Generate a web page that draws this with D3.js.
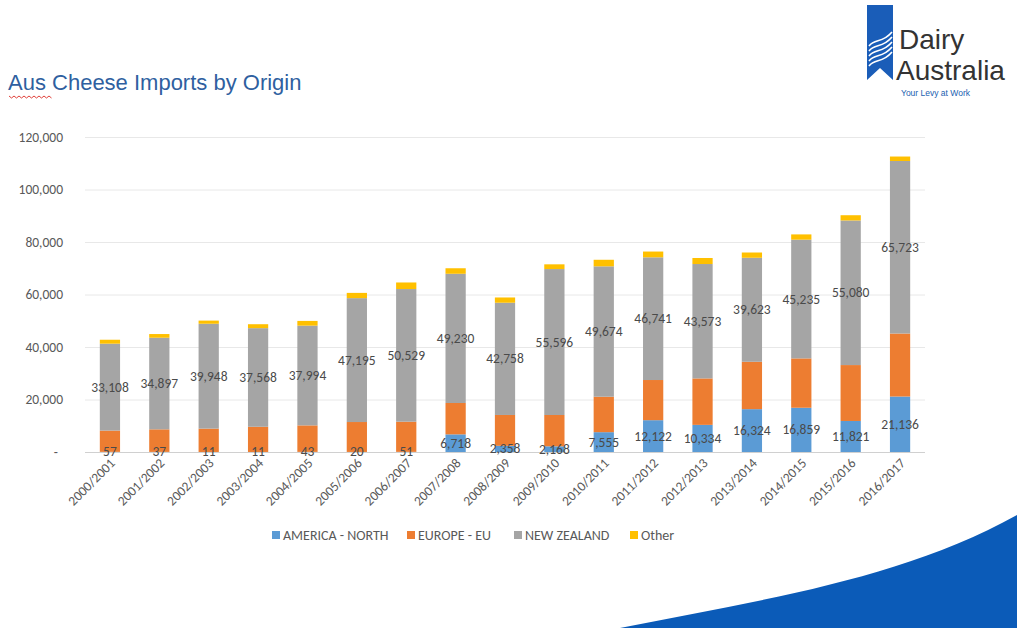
<!DOCTYPE html>
<html>
<head>
<meta charset="utf-8">
<script src="https://cdn.jsdelivr.net/npm/d3@7"></script>
<style>
  body { margin: 0; background: #fff; }
  svg { display: block; }
  .cal { font-family: Calibri, Carlito, "Open Sans", "DejaVu Sans", sans-serif; }
  .ari { font-family: Arial, "Liberation Sans", sans-serif; }
</style>
</head>
<body>
<svg width="1017" height="628"></svg>
<script>
// data
const years = ["2000/2001","2001/2002","2002/2003","2003/2004","2004/2005","2005/2006","2006/2007","2007/2008","2008/2009","2009/2010","2010/2011","2011/2012","2012/2013","2013/2014","2014/2015","2015/2016","2016/2017"];
const northAmerica = [57, 37, 11, 11, 43, 20, 51, 6718, 2358, 2168, 7555, 12122, 10334, 16324, 16859, 11821, 21136];
const europeEU = [8100, 8600, 8900, 9600, 10100, 11400, 11500, 11950, 11750, 11930, 13500, 15300, 17700, 18050, 18800, 21300, 24000];
const newZealand = [33108, 34897, 39948, 37568, 37994, 47195, 50529, 49230, 42758, 55596, 49674, 46741, 43573, 39623, 45235, 55080, 65723];
const other = [1500, 1400, 1200, 1500, 1800, 2000, 2500, 2100, 2000, 1800, 2500, 2200, 2300, 2000, 2000, 2000, 1700];
const seriesNames = ["AMERICA - NORTH", "EUROPE - EU", "NEW ZEALAND", "Other"];
const colors = ["#5B9BD5", "#ED7D31", "#A5A5A5", "#FFC000"];
const yTicks = [0, 20000, 40000, 60000, 80000, 100000, 120000];

var svg = d3.select("svg");

// table for stacking
const rows = years.map((y, i) => ({
  year: y, n: northAmerica[i], e: europeEU[i], z: newZealand[i], o: other[i]
}));
const keys = ["n", "e", "z", "o"];
const stack = d3.stack().keys(keys)(rows);

const x = d3.scaleBand().domain(years).range([85, 925]).paddingInner(0.59).paddingOuter(0.3);
const y = d3.scaleLinear().domain([0, 120000]).range([452, 137]);

// grid
svg.append("g")
  .selectAll("line")
  .data(yTicks)
  .enter()
  .append("line")
  .attr("x1", 85).attr("x2", 925)
  .attr("y1", d => y(d) + 0.5).attr("y2", d => y(d) + 0.5)
  .attr("stroke", d => d === 0 ? "#d0d0d0" : "#e8e8e8")
  .attr("stroke-width", 1);

// y labels
svg.append("g")
  .attr("class", "cal")
  .selectAll("text")
  .data(yTicks)
  .enter()
  .append("text")
  .attr("x", d => d === 0 ? 58 : 63)
  .attr("y", d => y(d) + 4.5)
  .attr("text-anchor", "end")
  .attr("font-size", 13.5)
  .attr("fill", "#595959")
  .text(d => d === 0 ? "-" : d3.format(",")(d));

// bars
svg.append("g")
  .selectAll("g")
  .data(stack)
  .enter()
  .append("g")
  .attr("fill", (d, i) => colors[i])
  .selectAll("rect")
  .data(d => d)
  .enter()
  .append("rect")
  .attr("x", d => x(d.data.year))
  .attr("width", x.bandwidth())
  .attr("y", d => y(d[1]))
  .attr("height", d => y(d[0]) - y(d[1]));

// data labels (north america and new zealand)
const labelled = [stack[0], stack[2]];
svg.append("g")
  .attr("class", "cal")
  .selectAll("g")
  .data(labelled)
  .enter()
  .append("g")
  .selectAll("text")
  .data(d => d)
  .enter()
  .append("text")
  .attr("x", d => x(d.data.year) + x.bandwidth() / 2)
  .attr("y", d => Math.min((y(d[0]) + y(d[1])) / 2, 452) + 4.5)
  .attr("text-anchor", "middle")
  .attr("font-size", 13.5)
  .attr("fill", "#4a4a4a")
  .text(d => d3.format(",")(d[1] - d[0]));

// x labels
svg.append("g")
  .attr("class", "cal")
  .selectAll("text")
  .data(years)
  .enter()
  .append("text")
  .attr("transform", d => `translate(${x(d) + x.bandwidth() / 2 + 6},${464}) rotate(-45)`)
  .attr("text-anchor", "end")
  .attr("font-size", 13.5)
  .attr("fill", "#595959")
  .text(d => d);

// legend
const legX = [272, 407, 514, 630];
const leg = svg.append("g")
  .attr("class", "cal")
  .selectAll("g")
  .data(seriesNames)
  .enter()
  .append("g")
  .attr("transform", (d, i) => `translate(${legX[i]},535)`);
leg.append("rect").attr("x", 0).attr("y", -4).attr("width", 8).attr("height", 8)
  .attr("fill", (d, i) => colors[i]);
leg.append("text").attr("x", 11).attr("y", 5)
  .attr("font-size", 14).attr("fill", "#595959")
  .text(d => d);

// title
svg.append("text")
  .attr("class", "ari")
  .attr("x", 8).attr("y", 90)
  .attr("font-size", 22)
  .attr("fill", "#2F5FA0")
  .text("Aus Cheese Imports by Origin");
// spell check squiggle under "Aus"
let sq = "M9,96";
for (let i = 0; i < 17; i++) sq += ` l2.5,${i % 2 ? -2 : 2}`;
svg.append("path").attr("d", sq).attr("fill", "none").attr("stroke", "#e0403a").attr("stroke-width", 1);

// logo
const logo = svg.append("g");
logo.append("path")
  .attr("d", "M867,5 L893,5 L893,80 L880,68 L867,80 Z")
  .attr("fill", "#1A5DB8");
for (let i = 0; i < 5; i++) {
  const oy = 40 + i * 5;
  logo.append("path")
    .attr("d", `M869,${oy + 6} C875,${oy - 2} 882,${oy + 4} 892,${oy - 8}`)
    .attr("fill", "none").attr("stroke", "#fff").attr("stroke-width", 1.6);
}
logo.append("text").attr("class", "ari").attr("x", 899).attr("y", 49)
  .attr("font-size", 28).attr("fill", "#333")
  .text("Dairy");
logo.append("text").attr("class", "ari").attr("x", 896).attr("y", 80)
  .attr("font-size", 28).attr("fill", "#333")
  .text("Australia");
logo.append("text").attr("class", "ari").attr("x", 901).attr("y", 96)
  .attr("font-size", 8.5).attr("fill", "#2060b0")
  .text("Your Levy at Work");

// swoosh bottom right
svg.append("path")
  .attr("d", "M620,628 C760,600 900,580 1017,515 L1017,628 Z")
  .attr("fill", "#0B5BB8");
</script>
</body>
</html>
